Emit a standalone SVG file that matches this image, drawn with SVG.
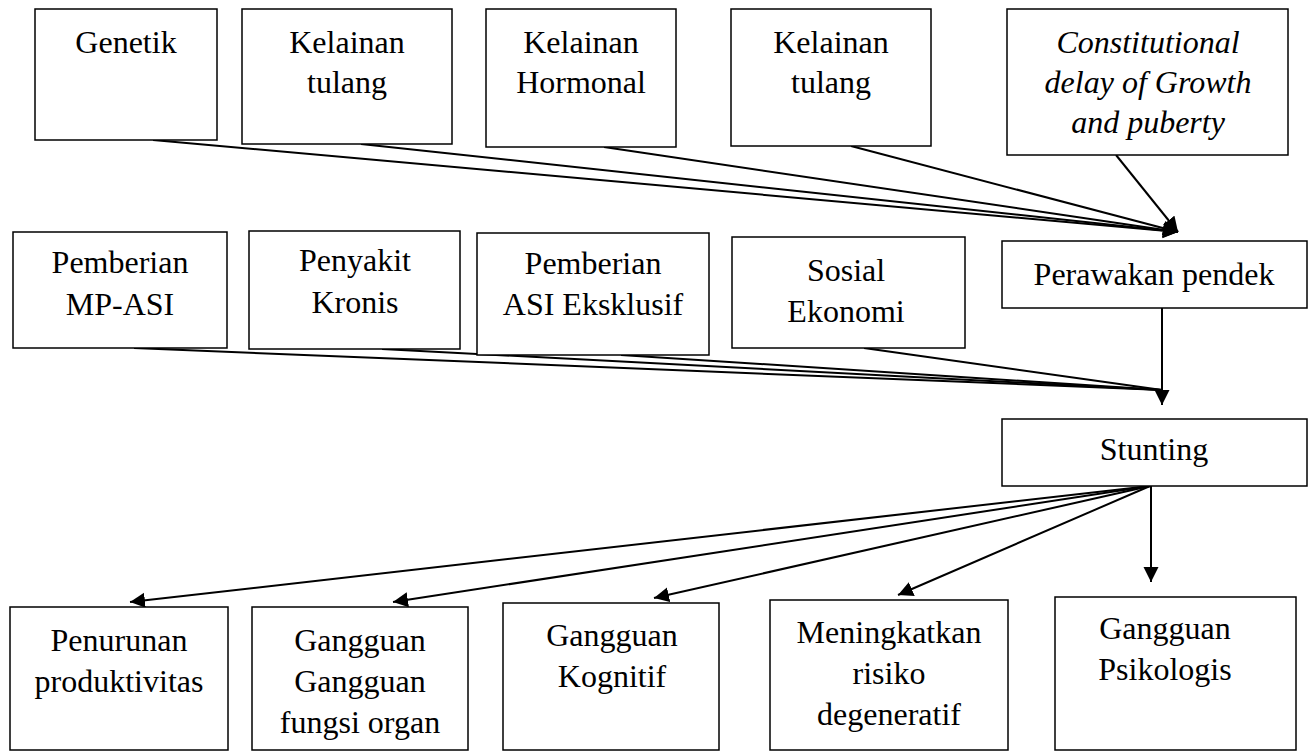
<svg xmlns="http://www.w3.org/2000/svg" width="1315" height="751" viewBox="0 0 1315 751">
<style>
  .box { fill: #ffffff; stroke: #000000; stroke-width: 1.5; }
  .t { font-family: "Liberation Serif", "Times New Roman", serif; font-size: 32px; fill: #000000; text-anchor: middle; }
  .i { font-style: italic; }
  .c { stroke: #000000; stroke-width: 2; fill: none; }
  .a { marker-end: url(#arr); }
</style>
<defs>
  <marker id="arr" markerUnits="userSpaceOnUse" markerWidth="16" markerHeight="16" refX="15" refY="7.5" orient="auto">
    <path d="M0,0 L15,7.5 L0,15 z" fill="#000000"/>
  </marker>
</defs>
<rect width="1315" height="751" fill="#ffffff"/>

<g id="connectors">
  <line class="c a" x1="153" y1="140" x2="1178" y2="232"/>
  <line class="c a" x1="361" y1="144" x2="1178" y2="232"/>
  <line class="c a" x1="604" y1="147" x2="1178" y2="232"/>
  <line class="c a" x1="851" y1="146" x2="1178" y2="232"/>
  <line class="c a" x1="1116" y1="155" x2="1178" y2="232"/>

  <line class="c" x1="134" y1="348" x2="1162" y2="390"/>
  <line class="c" x1="382" y1="349" x2="1162" y2="390"/>
  <line class="c" x1="621" y1="355" x2="1162" y2="390"/>
  <line class="c" x1="864" y1="348" x2="1162" y2="390"/>
  <line class="c a" x1="1162" y1="308" x2="1162" y2="405"/>

  <line class="c a" x1="1150" y1="486" x2="130" y2="602"/>
  <line class="c a" x1="1150" y1="486" x2="393" y2="602"/>
  <line class="c a" x1="1150" y1="486" x2="654" y2="598"/>
  <line class="c a" x1="1150" y1="486" x2="898" y2="595"/>
  <line class="c a" x1="1151" y1="486" x2="1151" y2="582"/>
</g>

<g id="genetik">
  <rect class="box" x="35" y="9" width="182" height="131"/>
  <text class="t" x="126" y="53">Genetik</text>
</g>
<g id="kelainan-tulang-1">
  <rect class="box" x="242" y="9" width="210" height="135"/>
  <text class="t" x="347" y="53">Kelainan</text>
  <text class="t" x="347" y="93">tulang</text>
</g>
<g id="kelainan-hormonal">
  <rect class="box" x="486" y="9" width="190" height="138"/>
  <text class="t" x="581" y="53">Kelainan</text>
  <text class="t" x="581" y="93">Hormonal</text>
</g>
<g id="kelainan-tulang-2">
  <rect class="box" x="731" y="9" width="200" height="137"/>
  <text class="t" x="831" y="53">Kelainan</text>
  <text class="t" x="831" y="93">tulang</text>
</g>
<g id="constitutional">
  <rect class="box" x="1007" y="9" width="281" height="146"/>
  <text class="t i" x="1148" y="53">Constitutional</text>
  <text class="t i" x="1148" y="93">delay of Growth</text>
  <text class="t i" x="1148" y="133">and puberty</text>
</g>

<g id="mp-asi">
  <rect class="box" x="13" y="232" width="214" height="116"/>
  <text class="t" x="120" y="273">Pemberian</text>
  <text class="t" x="120" y="315">MP-ASI</text>
</g>
<g id="penyakit-kronis">
  <rect class="box" x="249" y="231" width="211" height="118"/>
  <text class="t" x="355" y="271">Penyakit</text>
  <text class="t" x="355" y="313">Kronis</text>
</g>
<g id="asi-eksklusif">
  <rect class="box" x="477" y="233" width="232" height="122"/>
  <text class="t" x="593" y="274">Pemberian</text>
  <text class="t" x="593" y="315">ASI Eksklusif</text>
</g>
<g id="sosial-ekonomi">
  <rect class="box" x="732" y="237" width="233" height="111"/>
  <text class="t" x="846" y="281">Sosial</text>
  <text class="t" x="846" y="322">Ekonomi</text>
</g>
<g id="perawakan-pendek">
  <rect class="box" x="1002" y="241" width="305" height="67"/>
  <text class="t" x="1154" y="285">Perawakan pendek</text>
</g>

<g id="stunting">
  <rect class="box" x="1002" y="419" width="305" height="67"/>
  <text class="t" x="1154" y="460">Stunting</text>
</g>

<g id="penurunan-produktivitas">
  <rect class="box" x="10" y="607" width="218" height="143"/>
  <text class="t" x="119" y="651">Penurunan</text>
  <text class="t" x="119" y="692">produktivitas</text>
</g>
<g id="gangguan-fungsi-organ">
  <rect class="box" x="252" y="607" width="216" height="143"/>
  <text class="t" x="360" y="651">Gangguan</text>
  <text class="t" x="360" y="692">Gangguan</text>
  <text class="t" x="360" y="733">fungsi organ</text>
</g>
<g id="gangguan-kognitif">
  <rect class="box" x="503" y="603" width="216" height="147"/>
  <text class="t" x="612" y="646">Gangguan</text>
  <text class="t" x="612" y="687">Kognitif</text>
</g>
<g id="meningkatkan-risiko">
  <rect class="box" x="770" y="600" width="238" height="150"/>
  <text class="t" x="889" y="643">Meningkatkan</text>
  <text class="t" x="889" y="684">risiko</text>
  <text class="t" x="889" y="725">degeneratif</text>
</g>
<g id="gangguan-psikologis">
  <rect class="box" x="1055" y="597" width="241" height="153"/>
  <text class="t" x="1165" y="639">Gangguan</text>
  <text class="t" x="1165" y="680">Psikologis</text>
</g>
</svg>
